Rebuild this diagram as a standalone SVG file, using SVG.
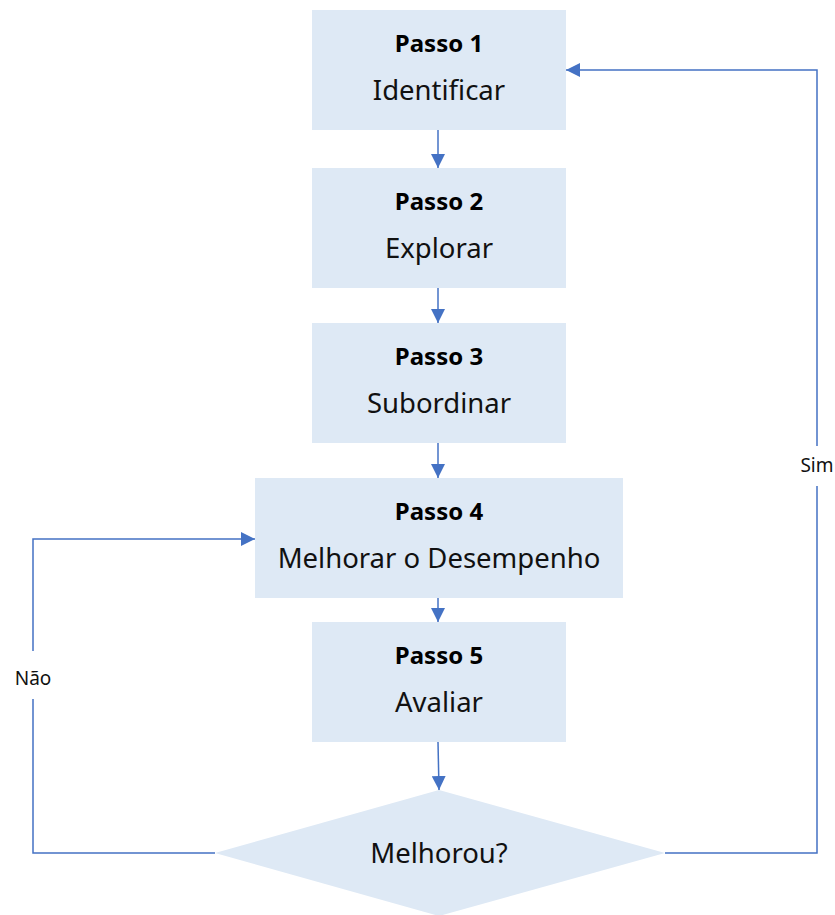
<svg xmlns="http://www.w3.org/2000/svg" width="835" height="915" viewBox="0 0 835 915">
  <defs>
    <marker id="arrow" viewBox="0 0 10 10" refX="10" refY="5" markerWidth="14" markerHeight="14" markerUnits="userSpaceOnUse" orient="auto">
      <path d="M0,0 L10,5 L0,10 Z" fill="#4472C4"/>
    </marker>
    <style>
      .box { fill: #DEE9F5; }
      .title { font-family: "Noto Sans", "Open Sans", sans-serif; font-size: 24px; font-weight: bold; fill: #000; text-anchor: middle; }
      .body { font-family: "Noto Sans", "Open Sans", sans-serif; font-size: 27.5px; fill: #111; text-anchor: middle; }
      .lbl { font-family: "Noto Sans", "Open Sans", sans-serif; font-size: 19px; fill: #111; text-anchor: middle; }
      .conn { fill: none; stroke: #4472C4; stroke-width: 1.5; }
    </style>
  </defs>

  <g id="passo1">
    <rect class="box" x="312" y="10" width="254" height="120"/>
    <text class="title" x="439" y="52">Passo 1</text>
    <text class="body" x="439" y="100">Identificar</text>
  </g>
  <g id="passo2">
    <rect class="box" x="312" y="168" width="254" height="120"/>
    <text class="title" x="439" y="210">Passo 2</text>
    <text class="body" x="439" y="258">Explorar</text>
  </g>
  <g id="passo3">
    <rect class="box" x="312" y="323" width="254" height="120"/>
    <text class="title" x="439" y="365">Passo 3</text>
    <text class="body" x="439" y="413">Subordinar</text>
  </g>
  <g id="passo4">
    <rect class="box" x="255" y="478" width="368" height="120"/>
    <text class="title" x="439" y="520">Passo 4</text>
    <text class="body" x="439" y="568">Melhorar o Desempenho</text>
  </g>
  <g id="passo5">
    <rect class="box" x="312" y="622" width="254" height="120"/>
    <text class="title" x="439" y="664">Passo 5</text>
    <text class="body" x="439" y="712">Avaliar</text>
  </g>
  <g id="decisao">
    <polygon class="box" points="439,790 665,853 439,916 215,853"/>
    <text class="body" x="439" y="863">Melhorou?</text>
  </g>

  <g id="connectors">
    <line class="conn" x1="438" y1="130" x2="438" y2="168" marker-end="url(#arrow)"/>
    <line class="conn" x1="438" y1="288" x2="438" y2="323" marker-end="url(#arrow)"/>
    <line class="conn" x1="438" y1="443" x2="438" y2="478" marker-end="url(#arrow)"/>
    <line class="conn" x1="438" y1="598" x2="438" y2="622" marker-end="url(#arrow)"/>
    <line class="conn" x1="438" y1="742" x2="439" y2="790" marker-end="url(#arrow)"/>
    <!-- Não: back to Passo 4 -->
    <polyline class="conn" points="215,853 33,853 33,699"/>
    <polyline class="conn" points="33,651 33,539 255,539" marker-end="url(#arrow)"/>
    <text class="lbl" x="33" y="685">Não</text>
    <!-- Sim: back to Passo 1 -->
    <polyline class="conn" points="665,853 817,853 817,486"/>
    <polyline class="conn" points="817,446 817,70 566,70" marker-end="url(#arrow)"/>
    <text class="lbl" x="817" y="472">Sim</text>
  </g>
</svg>
